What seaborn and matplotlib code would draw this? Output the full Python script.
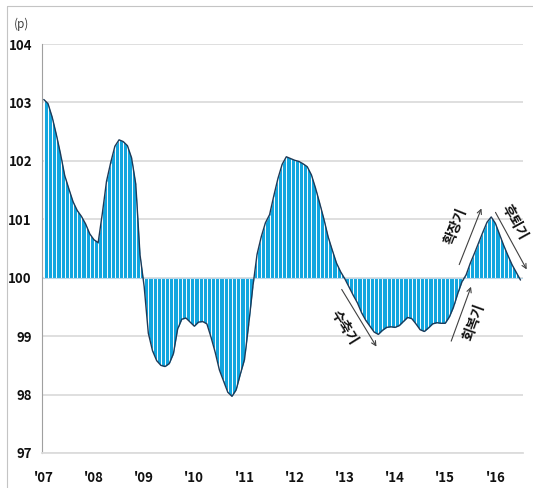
import numpy as np
import pandas as pd
import matplotlib
matplotlib.use("Agg")
import matplotlib.pyplot as plt
from matplotlib.lines import Line2D
import seaborn as sns

# Monthly composite index (p), Jan 2007 - Jul 2016
y2007 = [103.05, 102.98, 102.75, 102.45, 102.12, 101.75, 101.52, 101.30, 101.15, 101.05, 100.92, 100.75]
y2008 = [100.65, 100.60, 101.10, 101.65, 101.97, 102.25, 102.36, 102.33, 102.26, 102.05, 101.60, 100.40]
y2009 = [99.85, 99.05, 98.75, 98.58, 98.50, 98.48, 98.53, 98.70, 99.12, 99.29, 99.31, 99.24]
y2010 = [99.17, 99.24, 99.25, 99.21, 98.98, 98.72, 98.42, 98.23, 98.04, 97.97, 98.08, 98.35]
y2011 = [98.60, 99.20, 99.85, 100.40, 100.70, 100.94, 101.08, 101.40, 101.70, 101.94, 102.07, 102.04]
y2012 = [102.01, 101.99, 101.95, 101.90, 101.76, 101.53, 101.27, 101.00, 100.70, 100.47, 100.25, 100.10]
y2013 = [99.98, 99.84, 99.70, 99.57, 99.40, 99.27, 99.17, 99.07, 99.03, 99.10, 99.15, 99.16]
y2014 = [99.15, 99.18, 99.25, 99.32, 99.30, 99.21, 99.11, 99.08, 99.14, 99.21, 99.23, 99.22]
y2015 = [99.22, 99.33, 99.50, 99.73, 99.93, 100.05, 100.25, 100.42, 100.60, 100.78, 100.95, 101.04]
y2016 = [100.93, 100.74, 100.55, 100.38, 100.22, 100.09, 99.96]

year_labels = ["'07", "'08", "'09", "'10", "'11", "'12", "'13", "'14", "'15", "'16"]
y_ticks = [97, 98, 99, 100, 101, 102, 103, 104]
baseline = 100

phase_labels = ["수축기", "회복기", "확장기", "후퇴기"]

values = np.array(y2007 + y2008 + y2009 + y2010 + y2011 + y2012 + y2013 + y2014 + y2015 + y2016)
df = pd.DataFrame({"month": np.arange(len(values)), "index": values})

sns.set_theme(style="white")
plt.rcParams["font.family"] = ["Noto Sans CJK KR", "DejaVu Sans"]

fill_color = "#12a6df"
line_color = "#1d3a58"
grid_color = "#dcdcdc"

fig = plt.figure(figsize=(5.33, 4.88), dpi=100)
ax = fig.add_axes([41.7 / 533, 1 - 453 / 488, (523 - 41.7) / 533, (453 - 44) / 488])

# horizontal grid
for t in y_ticks:
    ax.axhline(t, color=grid_color, lw=1.3, zorder=0)

# filled area between the index and the 100 baseline, split into monthly columns
ax.fill_between(df["month"], baseline, df["index"], color=fill_color, lw=0, zorder=1)
ax.vlines(df["month"], baseline, df["index"], colors="white", lw=0.7, zorder=2)
ax.axhline(baseline, color="#b8d6e8", lw=0.8, zorder=2)

sns.lineplot(data=df, x="month", y="index", color=line_color, lw=1.0, ax=ax, zorder=3)

ax.set_xlim(-0.5, len(values) - 0.4)
ax.set_ylim(97, 104)
ax.set_yticks(y_ticks)
ax.set_yticklabels([str(t) for t in y_ticks], fontsize=9.5, fontweight="bold", color="#111111")
ax.set_xticks(np.arange(len(year_labels)) * 12)
ax.set_xticklabels(year_labels, fontsize=9.5, fontweight="bold", color="#111111")
ax.set_xlabel("")
ax.set_ylabel("")
ax.tick_params(axis="y", direction="out", length=3, width=0.8, color="#9a9a9a", pad=4)
ax.tick_params(axis="x", length=0, pad=13)

for side in ["top", "right"]:
    ax.spines[side].set_visible(False)
ax.spines["left"].set_color("#a0a0a0")
ax.spines["left"].set_linewidth(0.8)
ax.spines["bottom"].set_color(grid_color)
ax.spines["bottom"].set_linewidth(1.3)

# business-cycle phase annotations
arrow_kw = dict(arrowstyle="->", color="#404040", lw=0.8, mutation_scale=8)
phases = [
    # (label, arrow start, arrow end, text position, rotation)
    (phase_labels[0], (70.9, 99.84), (79.9, 98.78), (71.8, 99.15), -58),
    (phase_labels[1], (97.2, 98.87), (102.4, 99.89), (103.0, 99.24), 70),
    (phase_labels[2], (99.1, 100.18), (104.9, 101.23), (98.7, 100.87), 68),
    (phase_labels[3], (107.7, 101.16), (115.8, 100.10), (112.4, 100.95), -61),
]
for label, start, end, text_pos, rot in phases:
    ax.annotate("", xy=end, xytext=start, arrowprops=arrow_kw, annotation_clip=False)
    ax.text(text_pos[0], text_pos[1], label, rotation=rot, rotation_mode="anchor",
            ha="center", va="center", fontsize=10, fontweight="bold", color="#111111",
            clip_on=False)

fig.text(21.7 / 533, 1 - 24 / 488, "(p)", ha="center", va="center", fontsize=8.5, color="#404040")

# outer frame (top and left edges)
fig.add_artist(Line2D([7 / 533, 1], [1 - 6 / 488, 1 - 6 / 488], transform=fig.transFigure,
                      color="#c4c4c4", lw=0.8))
fig.add_artist(Line2D([7 / 533, 7 / 533], [0, 1 - 6 / 488], transform=fig.transFigure,
                      color="#c4c4c4", lw=0.8))

fig.savefig("out.png", dpi=100)
